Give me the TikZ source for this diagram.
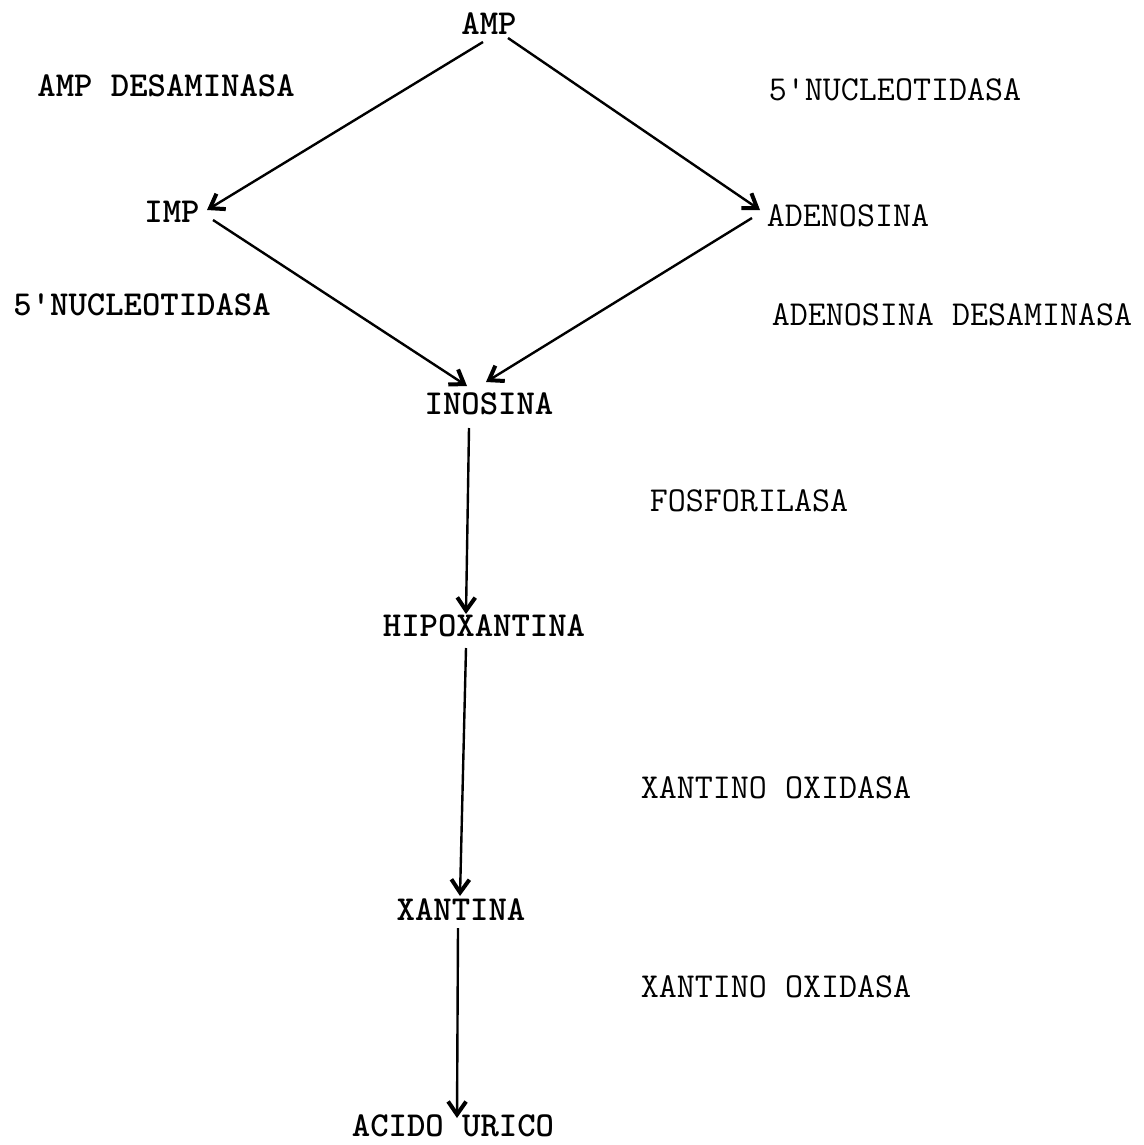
\documentclass[tikz,border=0pt]{standalone}
\usetikzlibrary{arrows.meta,calc}

\begin{document}
\begin{tikzpicture}[
  x=0.5pt,
  y=-0.5pt,
  every node/.style={font=\fontsize{17.5}{20}\selectfont\ttfamily, inner sep=0pt},
  metab/.style={font=\fontsize{17.5}{20}\selectfont\ttfamily\bfseries},
  enzyme/.style={font=\fontsize{17.5}{20}\selectfont\ttfamily},
  enzymebold/.style={font=\fontsize{17.5}{20}\selectfont\ttfamily\bfseries},
  arrow/.style={-{Straight Barb[length=6.5pt,width=9pt,line width=2pt]}, line width=1.2pt}
]
\useasboundingbox (0,0) rectangle (1144,1145);

% metabolites
\node[metab] (amp) at (489,24) {AMP};
\node[metab] (imp) at (172,212) {IMP};
\node[enzyme] (adenosina) at (848,216) {ADENOSINA};
\node[metab] (inosina) at (489,404) {INOSINA};
\node[metab] (hipox) at (484,626) {HIPOXANTINA};
\node[metab] (xantina) at (461,910) {XANTINA};
\node[metab] (acido) at (453,1126) {ACIDO URICO};

% enzymes
\node[enzymebold] (ampdes) at (166,86) {AMP DESAMINASA};
\node[enzyme] (nucright) at (895,90) {5'NUCLEOTIDASA};
\node[enzymebold] (nucleft) at (142,305) {5'NUCLEOTIDASA};
\node[enzyme] (adedes) at (952,315) {ADENOSINA DESAMINASA};
\node[enzyme] (fosfo) at (749,501) {FOSFORILASA};
\node[enzyme] (xo1) at (776,788) {XANTINO OXIDASA};
\node[enzyme] (xo2) at (776,987) {XANTINO OXIDASA};

\draw[arrow] ($(amp)+(-6,18)$) -- ($(imp)+(35,-2)$);
\draw[arrow] ($(amp)+(19,14)$) -- ($(adenosina)+(-88,-6)$);
\draw[arrow] ($(imp)+(41,8)$) -- ($(inosina)+(-22,-18)$);
\draw[arrow] ($(adenosina)+(-96,2)$) -- ($(inosina)+(-3,-22)$);
\draw[arrow] ($(inosina)+(-20,24)$) -- ($(hipox)+(-18,-12)$);
\draw[arrow] ($(hipox)+(-18,22)$) -- ($(xantina)+(-1,-14)$);
\draw[arrow] ($(xantina)+(-3,18)$) -- ($(acido)+(4,-8)$);

\end{tikzpicture}
\end{document}
